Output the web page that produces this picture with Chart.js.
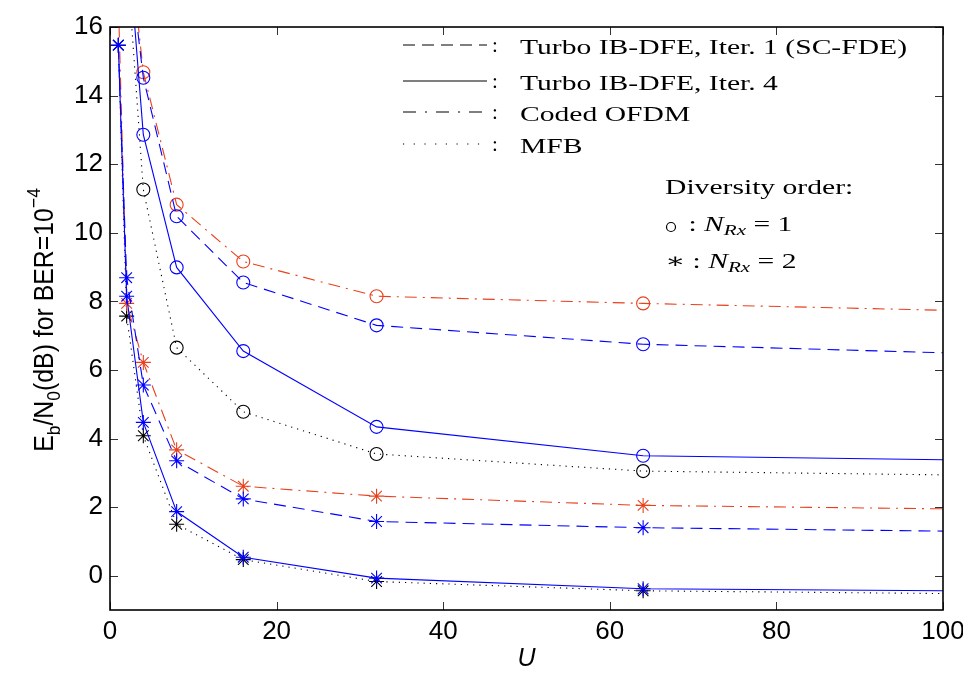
<!DOCTYPE html>
<html>
<head>
<meta charset="utf-8">
<script src="https://cdn.jsdelivr.net/npm/chart.js@4/dist/chart.umd.min.js"></script>
<style>
  html, body { margin: 0; padding: 0; background: #ffffff; }
  canvas { display: block; }
</style>
</head>
<body>
<canvas id="c" width="963" height="674"></canvas>
<script>
// ---- data ----
const U = [1, 2, 4, 8, 16, 32, 64, 100];
// N_Rx = 1 (circles)
const ofdmN1  = [null, 19.2, 14.68, 10.82, 9.16, 8.15, 7.94, 7.74];
const scfdeN1 = [null, 18.6, 14.52, 10.48, 8.55, 7.30, 6.75, 6.50];
const iter4N1 = [null, 19.0, 12.86, 8.99, 6.55, 4.34, 3.50, 3.38];
const mfbN1   = [null, 18.1, 11.26, 6.65, 4.78, 3.55, 3.05, 2.94];
// N_Rx = 2 (stars)
const ofdmN2  = [16.8, 7.94, 6.22, 3.67, 2.61, 2.32, 2.05, 1.95];
const scfdeN2 = [15.47, 8.69, 5.56, 3.35, 2.24, 1.58, 1.40, 1.30];
const iter4N2 = [15.47, 8.15, 4.47, 1.87, 0.54, -0.07, -0.38, -0.44];
const mfbN2   = [15.47, 7.57, 4.08, 1.50, 0.47, -0.17, -0.44, -0.52];

const xTicks = [0, 20, 40, 60, 80, 100];
const yTicks = [0, 2, 4, 6, 8, 10, 12, 14, 16];

const legendRows = [
  "Turbo IB-DFE, Iter. 1 (SC-FDE)",
  "Turbo IB-DFE, Iter. 4",
  "Coded OFDM",
  "MFB"
];

// ---- styles ----
const BLUE = '#0000ff';
const RED = '#e8401c';
const BLACK = '#000000';
const DASH = [12, 7];
const DASHDOT = [12, 6, 2, 6];
const DOT = [1.2, 5];
const SOLID = [];

function mk(values, color, dash, style) {
  return {
    data: U.map((u, i) => ({ x: u, y: values[i] })),
    borderColor: color,
    borderWidth: 1.1,
    borderDash: dash,
    pointStyle: style,
    pointRadius: U.map(u => (u === 100 ? 0 : (style === 'circle' ? 6.5 : 7.5))),
    pointBorderColor: color,
    pointBackgroundColor: 'rgba(0,0,0,0)',
    pointBorderWidth: 1.1,
    tension: 0,
    fill: false
  };
}

// Chart.js paints the first dataset on top
const datasets = [
  mk(iter4N2, BLUE, SOLID, 'star'),
  mk(iter4N1, BLUE, SOLID, 'circle'),
  mk(scfdeN2, BLUE, DASH, 'star'),
  mk(scfdeN1, BLUE, DASH, 'circle'),
  mk(ofdmN2, RED, DASHDOT, 'star'),
  mk(ofdmN1, RED, DASHDOT, 'circle'),
  mk(mfbN2, BLACK, DOT, 'star'),
  mk(mfbN1, BLACK, DOT, 'circle')
];

const SANS = '"Liberation Sans", Arial, Helvetica, sans-serif';
const SERIF = '"Liberation Serif", "DejaVu Serif", "Times New Roman", serif';

const decor = {
  id: 'decor',
  afterDraw(chart) {
    const ctx = chart.ctx;
    const a = chart.chartArea;
    const xs = chart.scales.x, ys = chart.scales.y;
    ctx.save();
    // inward ticks
    ctx.strokeStyle = '#333';
    ctx.lineWidth = 1;
    ctx.setLineDash([]);
    const TL = 8;
    ctx.beginPath();
    xTicks.forEach(v => {
      const px = Math.round(xs.getPixelForValue(v)) + 0.5;
      ctx.moveTo(px, a.bottom); ctx.lineTo(px, a.bottom - TL);
      ctx.moveTo(px, a.top); ctx.lineTo(px, a.top + TL);
    });
    yTicks.forEach(v => {
      const py = Math.round(ys.getPixelForValue(v)) + 0.5;
      ctx.moveTo(a.left, py); ctx.lineTo(a.left + TL, py);
      ctx.moveTo(a.right, py); ctx.lineTo(a.right - TL, py);
    });
    ctx.stroke();
    // box
    ctx.strokeStyle = '#000';
    ctx.lineWidth = 1.6;
    ctx.strokeRect(a.left, a.top, a.right - a.left, a.bottom - a.top);

    // y-axis title with sub/superscripts
    const parts = [
      ['E', 0], ['b', 1], ['/N', 0], ['0', 1], ['(dB) for BER=10', 0], ['\u22124', -1]
    ];
    const big = 'normal 27px ' + SANS, small = 'normal 19px ' + SANS;
    let total = 0;
    parts.forEach(p => { ctx.font = p[1] ? small : big; total += ctx.measureText(p[0]).width; });
    ctx.save();
    ctx.translate(46, 320);
    ctx.rotate(-Math.PI / 2);
    ctx.scale(0.92, 1);
    ctx.fillStyle = '#000';
    ctx.textBaseline = 'middle';
    ctx.textAlign = 'left';
    let cx = -total / 2;
    parts.forEach(p => {
      ctx.font = p[1] ? small : big;
      const dy = p[1] === 1 ? 9 : (p[1] === -1 ? -11 : 0);
      ctx.fillText(p[0], cx, dy);
      cx += ctx.measureText(p[0]).width;
    });
    ctx.restore();

    // legend (drawn as annotation text)
    const LF = 'normal 21px ' + SERIF;
    ctx.font = LF;
    const sx = 387 / ctx.measureText(legendRows[0]).width;
    const rowsY = [48, 84, 115, 147];
    const styles = [DASH, SOLID, [13, 9, 2, 9], [1.2, 9.5]];
    rowsY.forEach((y, i) => {
      ctx.strokeStyle = '#000';
      ctx.lineWidth = 1.1;
      ctx.setLineDash(styles[i]);
      ctx.beginPath();
      ctx.moveTo(403, y - 3); ctx.lineTo(487, y - 3);
      ctx.stroke();
      ctx.setLineDash([]);
      ctx.fillStyle = '#000';
      ctx.textBaseline = 'middle';
      ctx.font = LF;
      ctx.fillText(':', 492, y - 2);
      ctx.save();
      ctx.translate(520, y);
      ctx.scale(sx, 1);
      ctx.fillText(legendRows[i], 0, 0);
      ctx.restore();
    });
    // diversity order block
    function drawRich(x, y, pieces) {
      ctx.save();
      ctx.translate(x, y);
      ctx.scale(sx, 1);
      let px = 0;
      pieces.forEach(p => {
        ctx.font = p[1];
        ctx.fillText(p[0], px, p[2] || 0);
        px += ctx.measureText(p[0]).width;
      });
      ctx.restore();
    }
    ctx.textBaseline = 'middle';
    drawRich(665, 188, [['Diversity order:', LF]]);
    const IT = 'italic 21px ' + SERIF, ITS = 'italic 15px ' + SERIF;
    ctx.save();
    ctx.strokeStyle = '#000';
    ctx.lineWidth = 1.2;
    ctx.beginPath();
    ctx.arc(671, 227, 4.5, 0, Math.PI * 2);
    ctx.stroke();
    ctx.restore();
    drawRich(681, 225, [[' : ', LF], ['N', IT], ['Rx', ITS, 6], [' = 1', LF]]);
    drawRich(665, 262, [['\u2217 : ', LF], ['N', IT], ['Rx', ITS, 6], [' = 2', LF]]);
    ctx.restore();
  }
};

new Chart(document.getElementById('c'), {
  type: 'line',
  data: { datasets },
  plugins: [decor],
  options: {
    responsive: false,
    animation: false,
    devicePixelRatio: 1,
    layout: { padding: { left: 0, top: 27, right: 20, bottom: 0 } },
    plugins: { legend: { display: false }, tooltip: { enabled: false } },
    scales: {
      x: {
        type: 'linear',
        min: 0, max: 100,
        grid: { display: false, drawTicks: false },
        border: { display: false },
        afterBuildTicks: s => { s.ticks = xTicks.map(v => ({ value: v })); },
        afterFit: s => { s.height = 64; s.paddingRight = 0; s.paddingLeft = 0; },
        ticks: { color: '#000', font: { family: SANS, size: 26 }, padding: 6, maxRotation: 0 },
        title: { display: true, text: 'U', color: '#000', font: { family: SANS, size: 25, style: 'italic' }, padding: { top: 0, bottom: 0 } }
      },
      y: {
        type: 'linear',
        min: -1, max: 16,
        grid: { display: false, drawTicks: false },
        border: { display: false },
        afterBuildTicks: s => { s.ticks = yTicks.map(v => ({ value: v })); },
        afterFit: s => { s.width = 110; s.paddingTop = 0; s.paddingBottom = 0; },
        ticks: { color: '#000', font: { family: SANS, size: 26 }, padding: 7 }
      }
    }
  }
});
</script>
</body>
</html>
